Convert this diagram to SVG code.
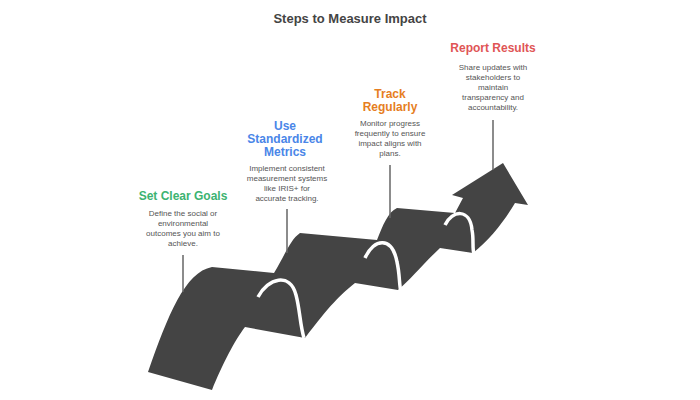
<svg xmlns="http://www.w3.org/2000/svg" width="700" height="400" viewBox="0 0 700 400">
<style>
text{font-family:"Liberation Sans",Arial,sans-serif;text-anchor:middle}
.t{font-size:12px;font-weight:bold}
.d{font-size:8px;fill:#555}
.lead{stroke:#666;stroke-width:1.5}
.fold{fill:none;stroke:#fff;stroke-width:3.5}
</style>
<rect width="700" height="400" fill="#fff"/>
<text x="350" y="23" class="t" fill="#444" style="font-size:13px">Steps to Measure Impact</text>
<g id="ribbon">
<path fill="#444" d="M148,372 C168,315 185,272 212,267 L274,273 C285,255 290,240 300,233 L377,240 C383,225 388,212 397,208 L455,213 L463,198 L452,195 L503,163 L528,205 L515,203 C505,220 490,240 473,253 L440,248 C425,262 410,280 398,290 L355,283 C340,295 330,305 305,338 L245,327 C235,340 222,365 212,390 Z"/>
<path class="fold" d="M258,297 C268,278 290,272 296,295 C300,310 300,325 304,338"/>
<path class="fold" d="M365,258 C374,238 392,236 397,262 C400,275 399,285 401,292"/>
<path class="fold" d="M445,225 C452,210 470,208 472,230 C474,240 472,248 474,254"/>
</g>
<g id="connectors">
<line class="lead" x1="183" y1="255" x2="183" y2="292"/>
<line class="lead" x1="287" y1="209" x2="287" y2="253"/>
<line class="lead" x1="390" y1="165" x2="390" y2="218"/>
<line class="lead" x1="493" y1="120" x2="493" y2="170"/>
</g>
<g id="step1">
<text x="183" y="200" class="t" fill="#3cb371">Set Clear Goals</text>
<text x="183" y="216" class="d">Define the social or</text>
<text x="183" y="226" class="d">environmental</text>
<text x="183" y="236" class="d">outcomes you aim to</text>
<text x="183" y="246" class="d">achieve.</text>
</g>
<g id="step2">
<text x="285" y="130" class="t" fill="#4a86e8">Use</text>
<text x="285" y="143" class="t" fill="#4a86e8">Standardized</text>
<text x="285" y="156" class="t" fill="#4a86e8">Metrics</text>
<text x="287" y="171" class="d">Implement consistent</text>
<text x="287" y="181" class="d">measurement systems</text>
<text x="287" y="191" class="d">like IRIS+ for</text>
<text x="287" y="201" class="d">accurate tracking.</text>
</g>
<g id="step3">
<text x="390" y="98" class="t" fill="#e67e22">Track</text>
<text x="390" y="111" class="t" fill="#e67e22">Regularly</text>
<text x="390" y="126" class="d">Monitor progress</text>
<text x="390" y="136" class="d">frequently to ensure</text>
<text x="390" y="146" class="d">impact aligns with</text>
<text x="390" y="156" class="d">plans.</text>
</g>
<g id="step4">
<text x="493" y="52" class="t" fill="#e05555">Report Results</text>
<text x="493" y="70" class="d">Share updates with</text>
<text x="493" y="80" class="d">stakeholders to</text>
<text x="493" y="90" class="d">maintain</text>
<text x="493" y="100" class="d">transparency and</text>
<text x="493" y="110" class="d">accountability.</text>
</g>
</svg>
